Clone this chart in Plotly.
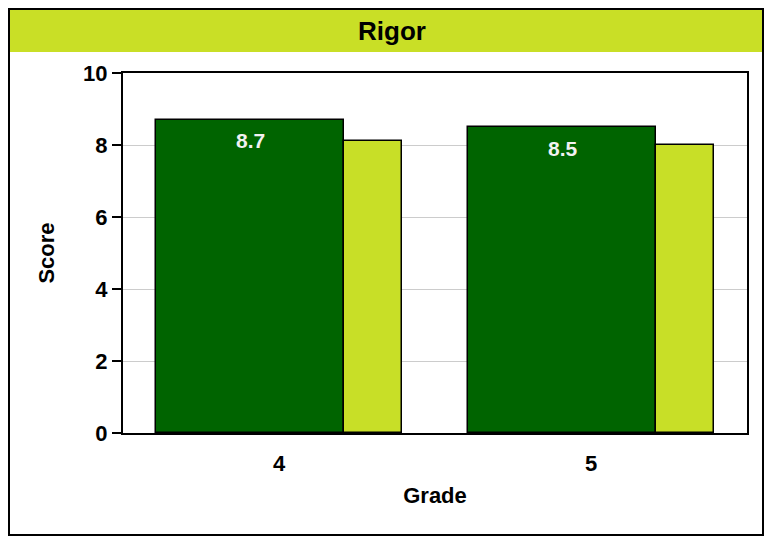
import plotly.graph_objects as go

grades = ["4", "5"]
school = [8.7, 8.5]
comparison = [8.1, 8.0]

W, H = 768, 538
L, R, T, B = 123, 21, 73, 105
PW, PH = W - L - R, H - T - B

def px_x(x):
    return (x - L) / PW

def px_y(y):
    return 1 - (y - T) / PH

xs = list(range(len(grades)))

fig = go.Figure()
fig.add_trace(go.Bar(
    x=xs, y=school, width=0.603, offset=-0.394,
    marker=dict(color="#006400", line=dict(color="black", width=1.5)),
    name="School", showlegend=False, hoverinfo="y"
))
fig.add_trace(go.Bar(
    x=xs, y=comparison, width=0.186, offset=0.209,
    marker=dict(color="#C8DF27", line=dict(color="black", width=1.5)),
    name="Comparison", showlegend=False, hoverinfo="y"
))

# value labels inside the dark bars
for x, v in zip(xs, school):
    fig.add_annotation(x=x - 0.09, y=v, text=f"<b>{v:.1f}</b>", showarrow=False,
                       yshift=-21, font=dict(family="Liberation Sans", size=21,
                                             color="#F2F2F2"))

# outer frame and title band
fig.add_shape(type="rect", xref="paper", yref="paper",
              x0=px_x(9), x1=px_x(763), y0=px_y(535), y1=px_y(9),
              line=dict(color="black", width=2), fillcolor="rgba(0,0,0,0)",
              layer="below")
fig.add_shape(type="rect", xref="paper", yref="paper",
              x0=px_x(10), x1=px_x(762), y0=px_y(52), y1=px_y(10),
              line=dict(width=0), fillcolor="#C9DF26", layer="below")
fig.add_annotation(xref="paper", yref="paper", x=px_x(392), y=px_y(31),
                   xanchor="center", yanchor="middle",
                   text="<b>Rigor</b>", showarrow=False,
                   font=dict(family="Liberation Sans", size=26, color="black"))

fig.update_layout(
    width=W, height=H,
    margin=dict(l=L, r=R, t=T, b=B),
    paper_bgcolor="white", plot_bgcolor="white",
    barmode="overlay", bargap=0,
    font=dict(family="Liberation Sans", color="black"),
    xaxis=dict(
        range=[-0.5, 1.5], tickvals=xs, ticktext=[f"<b>{g}</b>" for g in grades],
        tickfont=dict(size=22), showgrid=False, zeroline=False,
        showline=True, linecolor="black", linewidth=2, mirror=True,
        ticks="outside", ticklen=10, tickcolor="rgba(0,0,0,0)",
        title=dict(text="<b>Grade</b>", font=dict(size=22), standoff=12),
        fixedrange=True,
    ),
    yaxis=dict(
        range=[0, 10], dtick=2, tickfont=dict(size=22),
        tickformat="d", tickprefix="<b>", ticksuffix="</b>",
        showgrid=True, gridcolor="#CCCCCC", gridwidth=1, zeroline=False,
        showline=True, linecolor="black", linewidth=2, mirror=True,
        ticks="outside", ticklen=9, tickwidth=2, tickcolor="black",
        title=dict(text="<b>Score</b>", font=dict(size=22), standoff=22),
        fixedrange=True,
    ),
)

fig.write_html("out.html", config={"displayModeBar": False},
               post_script="document.body.style.margin='0';document.body.style.overflow='hidden';")
